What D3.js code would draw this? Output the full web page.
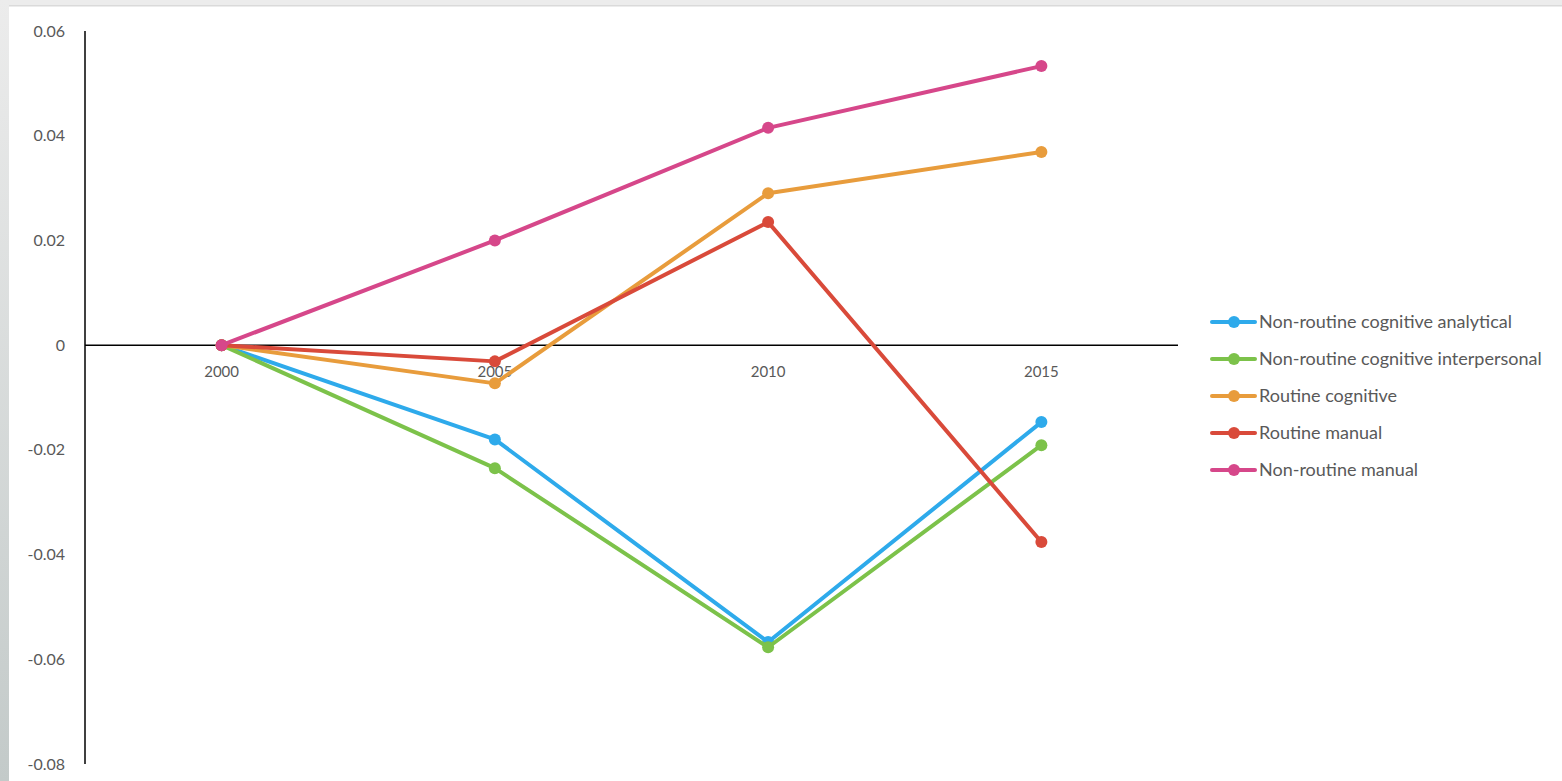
<!DOCTYPE html>
<html>
<head>
<meta charset="utf-8">
<script src="https://cdn.jsdelivr.net/npm/d3@7"></script>
<style>
  body { margin: 0; background: #fff; }
  text { font-family: Lato, "Open Sans", sans-serif; fill: #595959; }
</style>
</head>
<body>
<script>
var width = 1562, height = 781;

// data
var years = ["2000", "2005", "2010", "2015"];
var seriesNames = [
  "Non-routine cognitive analytical",
  "Non-routine cognitive interpersonal",
  "Routine cognitive",
  "Routine manual",
  "Non-routine manual"
];
var analytical    = [0, -0.0180, -0.0567, -0.0147];
var interpersonal = [0, -0.0235, -0.0577, -0.0191];
var routineCog    = [0, -0.0073,  0.0290,  0.0369];
var routineMan    = [0, -0.0031,  0.0235, -0.0376];
var nonRoutineMan = [0,  0.0200,  0.0415,  0.0533];
var colors = ["#2eaaeb", "#7cc24a", "#e89c3c", "#d94a3a", "#d6478a"];
var yTicks = [0.06, 0.04, 0.02, 0, -0.02, -0.04, -0.06, -0.08];

var seriesValues = [analytical, interpersonal, routineCog, routineMan, nonRoutineMan];

var svg = d3.select("body").append("svg")
  .attr("width", width)
  .attr("height", height);

// window frame
svg.append("rect").attr("x", 0).attr("y", 0).attr("width", width).attr("height", 6).attr("fill", "#ececec");
svg.append("rect").attr("x", 0).attr("y", 5).attr("width", width).attr("height", 1.5).attr("fill", "#dadada");
var grad = svg.append("defs").append("linearGradient").attr("id", "lg")
  .attr("x1", 0).attr("y1", 0).attr("x2", 0).attr("y2", 1);
grad.append("stop").attr("offset", "0%").attr("stop-color", "#ececec");
grad.append("stop").attr("offset", "100%").attr("stop-color", "#c3cac9");
svg.append("rect").attr("x", 0).attr("y", 0).attr("width", 9).attr("height", height).attr("fill", "url(#lg)");

var x = d3.scalePoint().domain(years).range([85, 1178]).padding(0.5);
var y = d3.scaleLinear().domain([-0.08, 0.06]).range([764, 31]);

// y axis line
svg.append("line")
  .attr("x1", 85).attr("x2", 85)
  .attr("y1", y(0.06)).attr("y2", y(-0.08))
  .attr("stroke", "#000").attr("stroke-width", 1.5);

// x axis line at zero
svg.append("line")
  .attr("x1", 85).attr("x2", 1178)
  .attr("y1", y(0)).attr("y2", y(0))
  .attr("stroke", "#000").attr("stroke-width", 1.5);

svg.selectAll(".ytick").data(yTicks).enter().append("text")
  .attr("class", "ytick")
  .attr("x", 65)
  .attr("y", function(d) { return y(d); })
  .attr("dy", "0.35em")
  .attr("text-anchor", "end")
  .style("font-size", "16px")
  .text(function(d) { return d === 0 ? "0" : d3.format(".2f")(d).replace("\u2212", "-"); });

svg.selectAll(".xtick").data(years).enter().append("text")
  .attr("class", "xtick")
  .attr("x", function(d) { return x(d); })
  .attr("y", y(0) + 27)
  .attr("dy", "0.35em")
  .attr("text-anchor", "middle")
  .style("font-size", "15px")
  .text(function(d) { return d; });

var line = d3.line()
  .x(function(d, i) { return x(years[i]); })
  .y(function(d) { return y(d); });

var g = svg.selectAll(".series").data(seriesValues).enter().append("g").attr("class", "series");

g.append("path")
  .attr("d", function(d) { return line(d); })
  .attr("fill", "none")
  .attr("stroke", function(d, i) { return colors[i]; })
  .attr("stroke-width", 4)
  .attr("stroke-linejoin", "round");

g.each(function(d, i) {
  d3.select(this).selectAll("circle").data(d).enter().append("circle")
    .attr("cx", function(v, j) { return x(years[j]); })
    .attr("cy", function(v) { return y(v); })
    .attr("r", 6)
    .attr("fill", colors[i]);
});

// legend
var legend = svg.selectAll(".legend").data(seriesNames).enter().append("g")
  .attr("class", "legend")
  .attr("transform", function(d, i) { return "translate(1212," + (322 + i * 37) + ")"; });

legend.append("line")
  .attr("x1", 0).attr("x2", 43)
  .attr("stroke", function(d, i) { return colors[i]; })
  .attr("stroke-width", 4)
  .attr("stroke-linecap", "round");

legend.append("circle")
  .attr("cx", 22).attr("r", 6)
  .attr("fill", function(d, i) { return colors[i]; });

legend.append("text")
  .attr("x", 47)
  .attr("dy", "0.35em")
  .style("font-size", "18px")
  .text(function(d) { return d; });
</script>
</body>
</html>
